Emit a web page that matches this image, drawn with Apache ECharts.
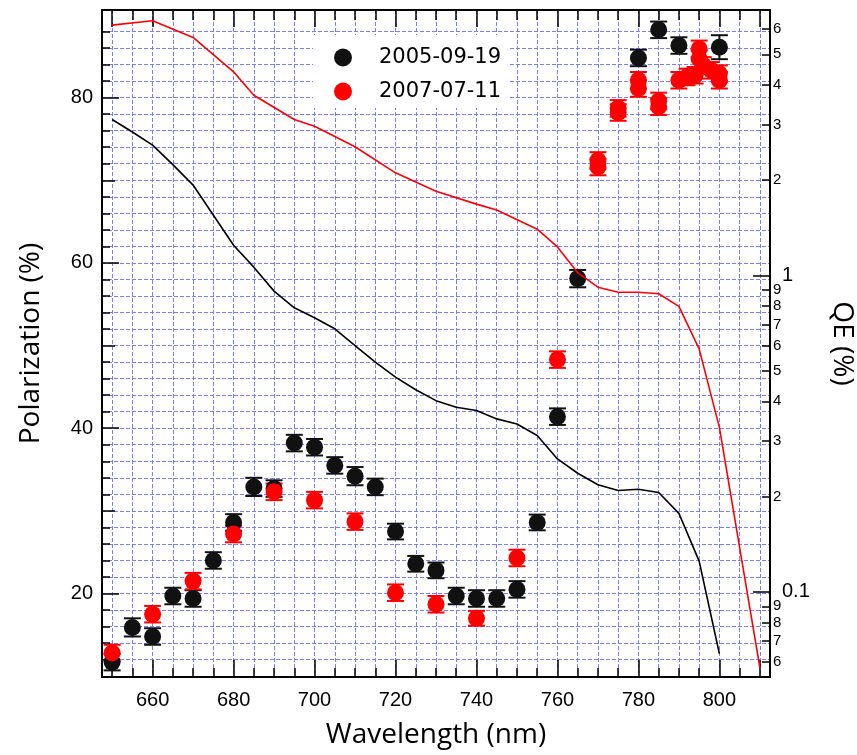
<!DOCTYPE html>
<html><head><meta charset="utf-8">
<script src="https://cdn.jsdelivr.net/npm/echarts@6/dist/echarts.min.js"></script>
<style>html,body{margin:0;padding:0;background:#fff}#c{width:857px;height:755px}</style>
</head><body><div id="c"></div>
<script>
// ---- Data ----
const wlBlack  = [650,655,660,665,670,675,680,685,690,695,700,705,710,715,720,725,730,735,740,745,750,755,760,765,780,785,790,800];
const polBlack = [11.7,15.9,14.8,19.7,19.4,24.0,28.6,32.9,32.7,38.2,37.7,35.5,34.2,32.9,27.5,23.6,22.8,19.7,19.4,19.4,20.5,28.6,41.4,58.1,84.8,88.2,86.3,86.1];
const errBlack = [1.0,1.1,1.0,1.0,1.0,1.0,1.0,1.1,1.0,1.0,1.0,1.0,1.1,1.0,0.95,0.95,0.95,1.0,1.0,1.0,1.0,0.95,1.0,1.05,1.0,1.0,1.0,1.45];

const wlRed  = [650,660,670,680,690,700,710,720,730,740,750,760,770,770,775,775,780,780,785,785,790,792,794,795,795,796,798,800,800];
const polRed = [12.8,17.5,21.5,27.2,32.3,31.3,28.7,20.1,18.7,17.0,24.3,48.3,72.4,71.6,78.7,78.2,82.1,81.1,79.6,78.9,82.1,82.5,82.7,85.9,84.7,83.9,83.3,82.9,82.1];
const errRed = [1.0,1.0,1.0,1.0,1.0,1.0,1.0,1.0,1.0,0.9,1.0,1.0,1.0,1.0,1.0,1.0,1.0,1.0,1.0,1.0,1.0,1.0,1.0,1.0,1.0,1.0,1.0,1.0,1.0];

const qeRedWl  = [650,660,670,680,685,695,700,710,720,730,740,745,755,760,765,770,775,780,785,790,795,800,810];
const qeRedVal = [6.18,6.38,5.65,4.40,3.71,3.11,2.96,2.55,2.11,1.845,1.68,1.61,1.40,1.23,1.02,0.918,0.885,0.885,0.875,0.798,0.586,0.331,0.0576];

const qeBlackWl  = [650,655,660,665,670,680,685,690,695,700,705,710,715,720,725,730,735,740,745,750,755,760,765,770,775,780,785,790,795,800];
const qeBlackVal = [3.11,2.84,2.58,2.24,1.93,1.245,1.062,0.892,0.790,0.735,0.678,0.600,0.532,0.477,0.435,0.402,0.383,0.374,0.352,0.339,0.312,0.263,0.237,0.218,0.209,0.211,0.206,0.177,0.125,0.0637];

const xTicksMinor = [650,655,660,665,670,675,680,685,690,695,700,705,710,715,720,725,730,735,740,745,750,755,760,765,770,775,780,785,790,795,800,805,810];
const xTicksMajor = [650,660,680,700,720,740,760,780,800,810];
const xLabels     = [660,680,700,720,740,760,780,800];

const yTicksMinor = [12,14,16,18,20,22,24,26,28,30,32,34,36,38,40,42,44,46,48,50,52,54,56,58,60,62,64,66,68,70,72,74,76,78,80,82,84,86,88];
const yTicksMid   = [30,50,70];
const yTicksMajor = [20,40,60,80];
const yLabels     = [20,40,60,80];

const qeMajor = [0.1,1];
const qeMinor = [0.06,0.07,0.08,0.09,0.2,0.3,0.4,0.5,0.6,0.7,0.8,0.9,2,3,4,5,6];

// ---- Chart ----
const zip = (a,b,c) => a.map((v,i)=> c ? [v,b[i],c[i]] : [v,b[i]]);
const X0 = 647.5, X1 = 812.5, Y0 = 9.9, Y1 = 90.6, Q0 = 0.0538, Q1 = 6.9;
const gridColor = '#7d7dff';
const tickFont = 'Liberation Sans';
const titleFont = 'Open Sans';

function errRender(color){
  return function(params, api){
    const x = api.value(0), y = api.value(1), e = api.value(2);
    const lo = api.coord([x, y - e]), hi = api.coord([x, y + e]);
    const w = 8.5;
    const st = {stroke: color, lineWidth: 2};
    return {type:'group', children:[
      {type:'line', shape:{x1:lo[0],y1:lo[1],x2:hi[0],y2:hi[1]}, style:st},
      {type:'line', shape:{x1:lo[0]-w,y1:lo[1],x2:lo[0]+w,y2:lo[1]}, style:st},
      {type:'line', shape:{x1:hi[0]-w,y1:hi[1],x2:hi[0]+w,y2:hi[1]}, style:st}
    ]};
  };
}

function qeFmt(v){
  if (v >= 0.999) return String(Math.round(v));
  if (v >= 0.0999) return String(Math.round(v*10));
  return String(Math.round(v*100));
}

const axisLineBlack = {show:true, lineStyle:{color:'#000', width:2}};
const tickStyle = {color:'#000', width:1.5};

const option = {
  animation:false,
  backgroundColor:'#fff',
  grid:{left:102, right:87, top:10, bottom:78, outerBoundsMode:'none', containLabel:false},
  legend:{
    data:['2005-09-19','2007-07-11'], orient:'vertical', left:313, top:35,
    backgroundColor:'#fff', padding:[12,7,6,21], itemWidth:18, itemHeight:18, itemGap:13,
    icon:'circle',
    textStyle:{fontFamily:'DejaVu Sans', fontSize:21, color:'#000', padding:[0,0,0,22]}
  },
  xAxis:[
    {type:'value', position:'bottom', min:X0, max:X1, axisLine:axisLineBlack,
     axisTick:{show:true, inside:true, length:9, customValues:xTicksMinor, lineStyle:tickStyle},
     axisLabel:{show:false},
     splitLine:{show:true, lineStyle:{color:gridColor, type:[4,2], width:1}},
     name:'Wavelength (nm)', nameLocation:'middle', nameGap:44,
     nameTextStyle:{fontFamily:titleFont, fontSize:28, color:'#000'}},
    {type:'value', position:'bottom', min:X0, max:X1, axisLine:{show:false},
     axisTick:{show:true, inside:true, length:17, customValues:xTicksMajor, lineStyle:tickStyle},
     axisLabel:{show:true, customValues:xLabels, margin:13, fontSize:20, fontFamily:tickFont, color:'#000'},
     splitLine:{show:false}},
    {type:'value', position:'top', min:X0, max:X1, axisLine:axisLineBlack,
     axisTick:{show:true, inside:true, length:10, customValues:xTicksMinor, lineStyle:tickStyle},
     axisLabel:{show:false}, splitLine:{show:false}},
    {type:'value', position:'top', min:X0, max:X1, axisLine:{show:false},
     axisTick:{show:true, inside:true, length:17, customValues:xTicksMajor, lineStyle:tickStyle},
     axisLabel:{show:false}, splitLine:{show:false}}
  ],
  yAxis:[
    {type:'value', position:'left', min:Y0, max:Y1, axisLine:axisLineBlack,
     axisTick:{show:true, inside:true, length:8, customValues:yTicksMinor, lineStyle:tickStyle},
     axisLabel:{show:true, customValues:yLabels, margin:9, fontSize:20, fontFamily:tickFont, color:'#000'},
     splitLine:{show:true, lineStyle:{color:gridColor, type:[4,2], width:1}},
     name:'Polarization (%)', nameLocation:'middle', nameGap:57,
     nameTextStyle:{fontFamily:titleFont, fontSize:28, color:'#000'}},
    {type:'value', position:'left', min:Y0, max:Y1, axisLine:{show:false},
     axisTick:{show:true, inside:true, length:13, customValues:yTicksMid, lineStyle:tickStyle},
     axisLabel:{show:false}, splitLine:{show:false}},
    {type:'value', position:'left', min:Y0, max:Y1, axisLine:{show:false},
     axisTick:{show:true, inside:true, length:17, customValues:yTicksMajor, lineStyle:tickStyle},
     axisLabel:{show:false}, splitLine:{show:false}},
    {type:'log', logBase:10, position:'right', min:Q0, max:Q1, axisLine:axisLineBlack,
     axisTick:{show:true, inside:true, length:17, customValues:qeMajor, lineStyle:tickStyle},
     axisLabel:{show:true, customValues:qeMajor, margin:12, fontSize:20, fontFamily:tickFont, color:'#000',
                formatter:(v)=> v < 0.5 ? '0.1' : '1'},
     splitLine:{show:false}, minorTick:{show:false}, minorSplitLine:{show:false},
     name:'QE (%)', nameLocation:'middle', nameRotate:-90, nameGap:58,
     nameTextStyle:{fontFamily:titleFont, fontSize:28, color:'#000'}},
    {type:'log', logBase:10, position:'right', min:Q0, max:Q1, axisLine:{show:false},
     axisTick:{show:true, inside:true, length:8, customValues:qeMinor, lineStyle:tickStyle},
     axisLabel:{show:true, customValues:qeMinor, margin:3, fontSize:15, fontFamily:tickFont, color:'#000',
                formatter:qeFmt},
     splitLine:{show:false}}
  ],
  series:[
    {type:'custom', name:'errBlack', xAxisIndex:0, yAxisIndex:0, renderItem:errRender('#111'),
     data:zip(wlBlack, polBlack, errBlack), z:3, silent:true},
    {type:'scatter', name:'2005-09-19', xAxisIndex:0, yAxisIndex:0, data:zip(wlBlack, polBlack),
     symbol:'circle', symbolSize:17, itemStyle:{color:'#111', opacity:1}, z:3},
    {type:'custom', name:'errRed', xAxisIndex:0, yAxisIndex:0, renderItem:errRender('#ff0000'),
     data:zip(wlRed, polRed, errRed), z:3, silent:true},
    {type:'scatter', name:'2007-07-11', xAxisIndex:0, yAxisIndex:0, data:zip(wlRed, polRed),
     symbol:'circle', symbolSize:17, itemStyle:{color:'#ff0000', opacity:1}, z:3},
    {type:'line', name:'qeRed', xAxisIndex:0, yAxisIndex:3, data:zip(qeRedWl, qeRedVal),
     symbol:'none', lineStyle:{color:'#ff0000', width:1.6}, z:4, silent:true},
    {type:'line', name:'qeBlack', xAxisIndex:0, yAxisIndex:3, data:zip(qeBlackWl, qeBlackVal),
     symbol:'none', lineStyle:{color:'#000', width:1.6}, z:4, silent:true}
  ]
};
const chart = echarts.init(document.getElementById('c'), null, {renderer:'canvas'});
chart.setOption(option);
</script>
</body></html>
